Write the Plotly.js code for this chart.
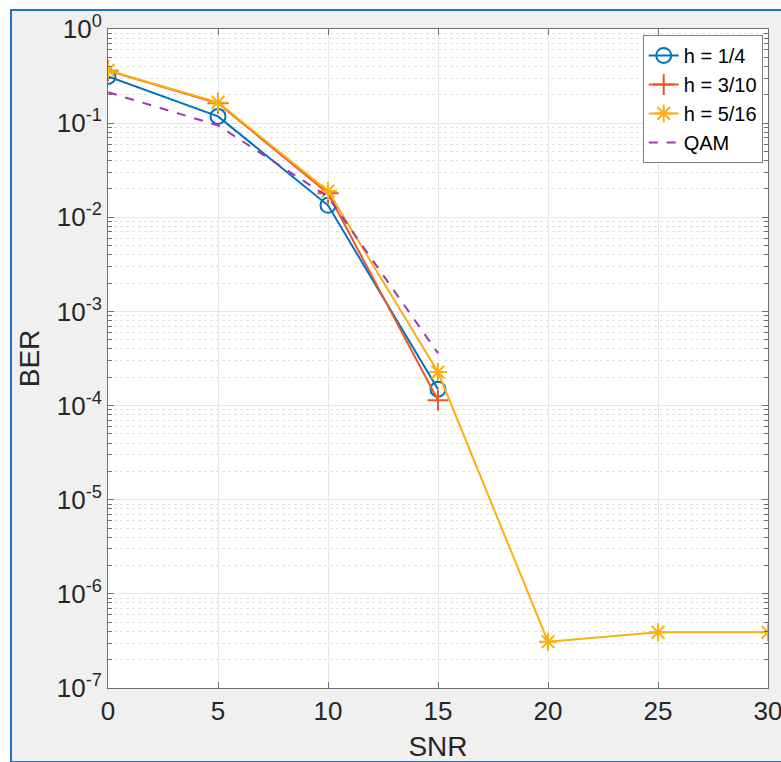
<!DOCTYPE html>
<html>
<head>
<meta charset="utf-8">
<script src="https://cdn.plot.ly/plotly-3.0.1.min.js"></script>
<style>
  html, body { margin:0; padding:0; background:#ffffff; }
  #frame { position:absolute; left:10px; top:9px; width:790px; height:750px; border:2px solid #1b74c8; background:#f0f0f0; }
  #plot { position:absolute; left:0; top:0; width:781px; height:762px; }
</style>
</head>
<body>
<div id="frame"></div>
<div id="plot"></div>
<script>
const snr = [0, 5, 10, 15, 20, 25, 30];
const snrShort = [0, 5, 10, 15];
const berH14 = [0.313, 0.118, 0.0134, 1.49e-4];
const berH310 = [0.36, 0.163, 0.018, 1.14e-4];
const berH516 = [0.363, 0.166, 0.019, 2.27e-4, 3.1e-7, 3.9e-7, 3.9e-7];
const berQAM = [0.213, 0.0946, 0.0165, 3.6e-4];
const xTicks = [0, 5, 10, 15, 20, 25, 30];
const yTickVals = [1, 1e-1, 1e-2, 1e-3, 1e-4, 1e-5, 1e-6, 1e-7];
const yTickText = ['10<sup>0</sup>', '10<sup>-1</sup>', '10<sup>-2</sup>', '10<sup>-3</sup>', '10<sup>-4</sup>', '10<sup>-5</sup>', '10<sup>-6</sup>', '10<sup>-7</sup>'];

const traces = [
  { x: snrShort, y: berH14, name: 'h = 1/4', mode: 'lines+markers',
    line: {color: '#0072BD', width: 2},
    marker: {symbol: 'circle-open', size: 15, color: '#0072BD', line: {width: 2}} },
  { x: snrShort, y: berH310, name: 'h = 3/10', mode: 'lines+markers',
    line: {color: '#F0552A', width: 2},
    marker: {symbol: 'cross-thin-open', size: 15, color: '#F0552A', line: {width: 2, color: '#F0552A'}} },
  { x: snr, y: berH516, name: 'h = 5/16', mode: 'lines+markers',
    line: {color: '#F9B010', width: 2},
    marker: {symbol: 'asterisk-open', size: 15, color: '#F9B010', line: {width: 2, color: '#F9B010'}} },
  { x: snrShort, y: berQAM, name: 'QAM', mode: 'lines',
    line: {color: '#9B3BA8', width: 2, dash: 'dash'} }
];

const FAM = 'Liberation Sans, Arial, sans-serif';
const axisFont = {family: FAM, size: 26, color: '#262626'};
const titleFont = {family: FAM, size: 28, color: '#262626'};
const layout = {
  width: 781, height: 762,
  margin: {l: 108, r: 13, t: 29, b: 74, pad: 0},
  paper_bgcolor: 'rgba(0,0,0,0)',
  plot_bgcolor: '#ffffff',
  showlegend: true,
  legend: {
    x: 0.992, xanchor: 'right', y: 0.991, yanchor: 'top',
    bgcolor: '#ffffff', bordercolor: '#808080', borderwidth: 1,
    font: {family: FAM, size: 20, color: '#000000'},
    tracegroupgap: 0, itemwidth: 30
  },
  xaxis: {
    range: [0, 30], tickvals: xTicks, ticktext: xTicks.map(String),
    showgrid: true, gridcolor: '#e6e6e6', gridwidth: 1,
    zeroline: false, showline: true, linecolor: '#6e6e6e', linewidth: 1, mirror: 'ticks',
    ticks: 'inside', ticklen: 6, tickcolor: '#6e6e6e',
    tickfont: axisFont, ticklabeloverflow: 'allow',
    title: {text: 'SNR', font: titleFont, standoff: 14}
  },
  yaxis: {
    type: 'log', range: [-7, 0], tickvals: yTickVals, ticktext: yTickText,
    showgrid: true, gridcolor: '#e6e6e6', gridwidth: 1,
    zeroline: false, showline: true, linecolor: '#6e6e6e', linewidth: 1, mirror: 'ticks',
    ticks: 'inside', ticklen: 6, tickcolor: '#6e6e6e',
    tickfont: axisFont, ticklabeloverflow: 'allow',
    minor: {dtick: 'D1', showgrid: true, gridcolor: '#e2e2e2', griddash: 'dot', ticks: 'inside', ticklen: 4, tickcolor: '#6e6e6e'},
    title: {text: 'BER', font: titleFont, standoff: 8}
  }
};
Plotly.newPlot('plot', traces, layout, {displayModeBar: false, staticPlot: true});
</script>
</body>
</html>
